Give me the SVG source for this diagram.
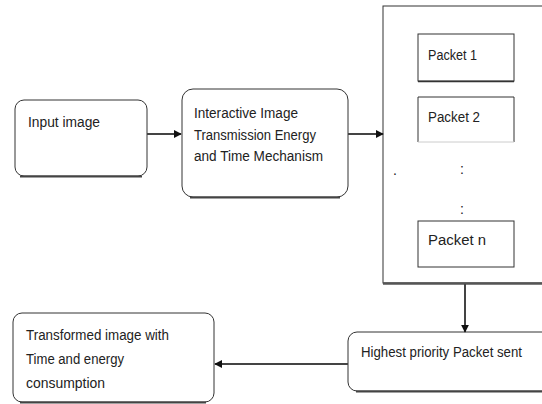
<svg xmlns="http://www.w3.org/2000/svg" width="542" height="404" viewBox="0 0 542 404">
<defs>
<style>
.box{fill:#fff;stroke:#333;stroke-width:1}
.shadow{fill:none;stroke:#444;stroke-width:2}
.t{font-family:"Liberation Sans",Arial,sans-serif;font-size:14px;fill:#222}
.c{stroke:#444;stroke-width:2;fill:none}
</style>
<marker id="ah" viewBox="0 0 10 10" refX="9" refY="5" markerWidth="4" markerHeight="4" orient="auto" markerUnits="strokeWidth">
<path d="M0,0 L10,5 L0,10 z" fill="#111"/>
</marker>
</defs>
<rect width="542" height="404" fill="#fff"/>
<g id="input">
<rect class="box" x="15" y="100" width="132" height="76" rx="9"/>
<path class="shadow" d="M20,176.5 H142"/>
<text class="t" x="28" y="127" textLength="72" lengthAdjust="spacingAndGlyphs">Input image</text>
</g>
<g id="mechanism">
<rect class="box" x="182" y="89" width="166" height="108" rx="11"/>
<path class="shadow" d="M190,197.5 H340"/>
<text class="t" x="194" y="118" textLength="104" lengthAdjust="spacingAndGlyphs">Interactive Image</text>
<text class="t" x="194" y="140" textLength="122" lengthAdjust="spacingAndGlyphs">Transmission Energy</text>
<text class="t" x="194" y="161" textLength="129" lengthAdjust="spacingAndGlyphs">and Time Mechanism</text>
</g>
<g id="packets">
<rect x="383" y="6" width="170" height="277" fill="#fff" stroke="#333" stroke-width="1"/>
<path d="M383,283.5 H545" stroke="#555" stroke-width="2.5"/>
<text class="t" x="393" y="175" font-size="10">.</text>
<text class="t" x="460" y="174">:</text>
<text class="t" x="460" y="214">:</text>
</g>
<g id="packet1">
<rect x="418" y="34" width="96" height="47" fill="#fff" stroke="#333" stroke-width="1"/>
<path d="M418,81.5 H514" stroke="#333" stroke-width="1.5"/>
<text class="t" x="428" y="60" textLength="49" lengthAdjust="spacingAndGlyphs">Packet 1</text>
</g>
<g id="packet2">
<path d="M418,142 V97 H514 V142" fill="none" stroke="#333" stroke-width="1"/>
<path d="M418,142 H514" stroke="#ccc" stroke-width="1"/>
<text class="t" x="428" y="122" textLength="52" lengthAdjust="spacingAndGlyphs">Packet 2</text>
</g>
<g id="packetn">
<rect x="418" y="221" width="96" height="46" fill="#fff" stroke="#333" stroke-width="1"/>
<text class="t" x="428" y="245" textLength="58" lengthAdjust="spacingAndGlyphs">Packet n</text>
</g>
<g id="highest">
<rect class="box" x="348" y="332" width="204" height="59" rx="9"/>
<path class="shadow" d="M356,391.5 H545"/>
<text class="t" x="361" y="357" textLength="161" lengthAdjust="spacingAndGlyphs">Highest priority Packet sent</text>
</g>
<g id="transformed">
<rect class="box" x="13" y="313" width="201" height="89" rx="9"/>
<path class="shadow" d="M20,402.5 H206"/>
<text class="t" x="26" y="340" textLength="143" lengthAdjust="spacingAndGlyphs">Transformed image with</text>
<text class="t" x="26" y="364" textLength="98" lengthAdjust="spacingAndGlyphs">Time and energy</text>
<text class="t" x="26" y="388" textLength="79" lengthAdjust="spacingAndGlyphs">consumption</text>
</g>
<g id="connectors">
<line class="c" x1="147" y1="134" x2="181" y2="134" stroke="#111" marker-end="url(#ah)"/>
<line class="c" x1="348" y1="134" x2="383" y2="134" stroke="#111" marker-end="url(#ah)"/>
<line class="c" x1="465" y1="284" x2="465" y2="332" marker-end="url(#ah)"/>
<line class="c" x1="348" y1="364" x2="215" y2="364" marker-end="url(#ah)"/>
</g>
</svg>
